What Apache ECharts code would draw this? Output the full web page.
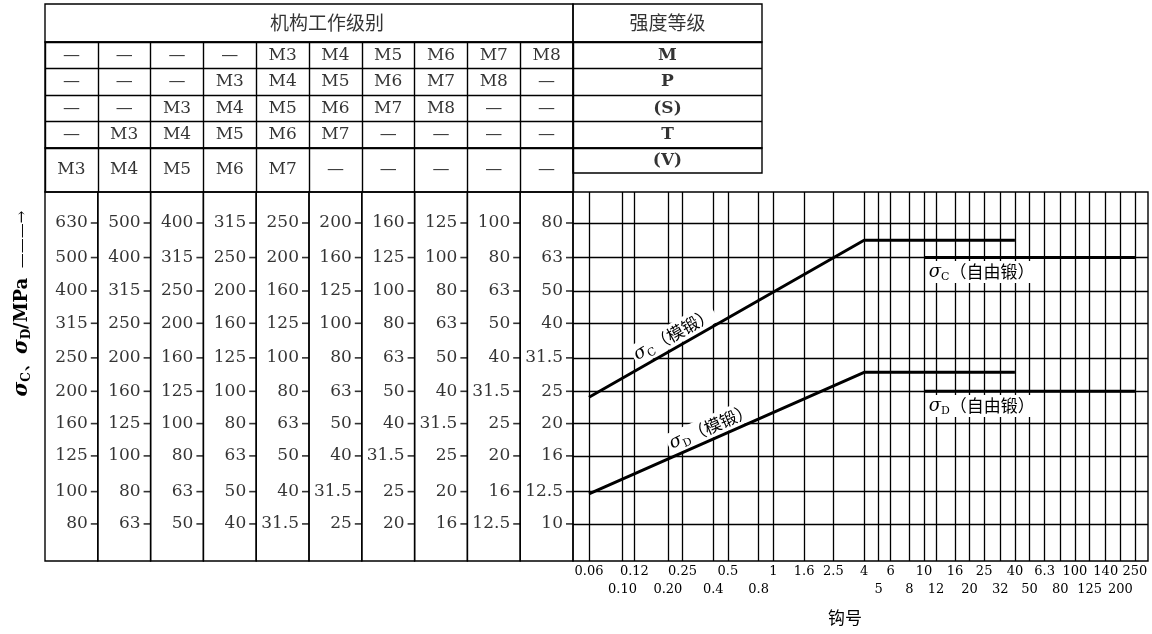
<!DOCTYPE html>
<html><head><meta charset="utf-8">
<script src="https://cdn.jsdelivr.net/npm/echarts@6/dist/echarts.min.js"></script>
<style>html,body{margin:0;padding:0;background:#fff}#c{width:1152px;height:634px}</style>
</head><body><div id="c"></div>
<script>
// ---------- DATA ----------
const headerLevels = '机构工作级别';
const headerStrength = '强度等级';
const levelRow1 = ['—','—','—','—','M3','M4','M5','M6','M7','M8'];
const levelRow2 = ['—','—','—','M3','M4','M5','M6','M7','M8','—'];
const levelRow3 = ['—','—','M3','M4','M5','M6','M7','M8','—','—'];
const levelRow4 = ['—','M3','M4','M5','M6','M7','—','—','—','—'];
const levelRow5 = ['M3','M4','M5','M6','M7','—','—','—','—','—'];
const strengthClasses = ['M','P','(S)','T','(V)'];

// stress scale tick labels per column (MPa); last column is the chart's own scale
const stressCol1  = [630,500,400,315,250,200,160,125,100,80];
const stressCol2  = [500,400,315,250,200,160,125,100,80,63];
const stressCol3  = [400,315,250,200,160,125,100,80,63,50];
const stressCol4  = [315,250,200,160,125,100,80,63,50,40];
const stressCol5  = [250,200,160,125,100,80,63,50,40,31.5];
const stressCol6  = [200,160,125,100,80,63,50,40,31.5,25];
const stressCol7  = [160,125,100,80,63,50,40,31.5,25,20];
const stressCol8  = [125,100,80,63,50,40,31.5,25,20,16];
const stressCol9  = [100,80,63,50,40,31.5,25,20,16,12.5];
const stressCol10 = [80,63,50,40,31.5,25,20,16,12.5,10];
const stressCols = [stressCol1,stressCol2,stressCol3,stressCol4,stressCol5,stressCol6,stressCol7,stressCol8,stressCol9,stressCol10];

const hookNumbers = [0.06,0.10,0.12,0.20,0.25,0.4,0.5,0.8,1,1.6,2.5,4,5,6,8,10,12,16,20,25,32,40,50,63,80,100,125,160,200,250];
const hookLabels  = ['0.06','0.10','0.12','0.20','0.25','0.4','0.5','0.8','1','1.6','2.5','4','5','6','8','10','12','16','20','25','32','40','50','6.3','80','100','125','140','200','250'];
const hookLabelRow = [1,2,1,2,1,2,1,2,1,1,1,1,2,1,2,1,2,1,2,1,2,1,2,1,2,1,2,1,2,1];
const stressGridValues = [10,12.5,16,20,25,31.5,40,50,63,80];

const sigmaC_die  = [[0.06,24],[4,71],[40,71]];
const sigmaC_free = [[10,63],[250,63]];
const sigmaD_die  = [[0.06,12.3],[4,28.5],[40,28.5]];
const sigmaD_free = [[10,25],[250,25]];

// label anchor points (data coords)
const labelC_die  = [0.218,37.1];
const labelC_free = [10.4,57];
const labelD_die  = [0.385,19.6];
const labelD_free = [10.4,22.6];

// ---------- LAYOUT ----------
const SERIF = 'DejaVu Serif', CJK = 'Noto Sans CJK SC';
const L = 45, TBL_R = 573, STR_R = 762, CH_R = 1148;
const COLW = (TBL_R - L) / 10;
const Y_HEAD = 4, Y_ROW1 = 42, Y_ROW5 = 148, Y_STR_END = 173, Y_TOP = 192, Y_BOT = 561;
const X_MIN = 0.047, X_MAX = 305, Y_MIN = 7.74, Y_MAX = 99.1;
const BORDER = 1.4;

const grids = [], xAxes = [], yAxes = [], series = [];
function addGrid(rect, xa, ya, showBorder) {
  const i = grids.length;
  grids.push(Object.assign({show: showBorder !== false, borderColor:'#000', borderWidth:BORDER,
    backgroundColor:'transparent', outerBoundsMode:'none', containLabel:false}, rect));
  xAxes.push(Object.assign({gridIndex:i}, xa));
  yAxes.push(Object.assign({gridIndex:i}, ya));
  return i;
}
function catAxis(n, split, inverse) {
  return {type:'category', data:Array.from({length:n},(_,k)=>String(k)), inverse:!!inverse,
    axisLine:{show:false}, axisTick:{show:false}, axisLabel:{show:false},
    splitLine:{show:!!split, interval:0, lineStyle:{color:'#000', width:BORDER}}};
}
function textScatter(gi, data, font, offset) {
  series.push({type:'scatter', xAxisIndex:gi, yAxisIndex:gi, symbolSize:0, silent:true, clip:false,
    data: data,
    label:{show:true, position:'inside', formatter:p=>p.value[2], color:'#000', offset: offset || [0,0],
      fontFamily: font.family, fontSize: font.size, fontWeight: font.weight || 'normal'}});
}

// header cells
let g = addGrid({left:L, top:Y_HEAD, width:TBL_R-L, height:Y_ROW1-Y_HEAD}, catAxis(1), catAxis(1));
textScatter(g, [[0,0,headerLevels]], {family:CJK, size:19}, [18,0]);
g = addGrid({left:TBL_R, top:Y_HEAD, width:STR_R-TBL_R, height:Y_ROW1-Y_HEAD}, catAxis(1), catAxis(1));
textScatter(g, [[0,0,headerStrength]], {family:CJK, size:19});

// level rows 1-4
g = addGrid({left:L, top:Y_ROW1, width:TBL_R-L, height:Y_ROW5-Y_ROW1}, catAxis(10,true), catAxis(4,true,true));
const rows14 = [levelRow1, levelRow2, levelRow3, levelRow4];
const d14 = [];
rows14.forEach((row, r) => row.forEach((t, c) => d14.push([c, r, t])));
textScatter(g, d14, {family:SERIF, size:17});
// level row 5
g = addGrid({left:L, top:Y_ROW5, width:TBL_R-L, height:Y_TOP-Y_ROW5}, catAxis(10,true), catAxis(1));
textScatter(g, levelRow5.map((t, c) => [c, 0, t]), {family:SERIF, size:17});
// strength rows
g = addGrid({left:TBL_R, top:Y_ROW1, width:STR_R-TBL_R, height:Y_ROW5-Y_ROW1}, catAxis(1), catAxis(4,true,true));
textScatter(g, strengthClasses.slice(0,4).map((t, r) => [0, r, t]), {family:SERIF, size:17, weight:'bold'});
g = addGrid({left:TBL_R, top:Y_ROW5, width:STR_R-TBL_R, height:Y_STR_END-Y_ROW5}, catAxis(1), catAxis(1));
textScatter(g, [[0, 0, strengthClasses[4]]], {family:SERIF, size:17, weight:'bold'});

// stress columns: ticks placed on the chart's stress rows, labelled with each column's values
stressCols.forEach((col, i) => {
  const ya = {type:'log', min:Y_MIN, max:Y_MAX, show: i === 0,
    axisLine:{show:false}, axisTick:{show:false}, axisLabel:{show:false}, splitLine:{show:false}};
  if (i === 0) {
    Object.assign(ya, {
      name:'{s|σ}{sub|C}{n|、}{s|σ}{sub|D}{n|/MPa}{a|  ———→}',
      nameLocation:'middle', nameRotate:90, nameGap:12,
      nameTextStyle:{padding:[0,0,0,146], rich:{
        s:{fontFamily:SERIF, fontStyle:'italic', fontSize:20, fontWeight:'bold', color:'#000', lineHeight:22},
        sub:{fontFamily:SERIF, fontSize:12, fontWeight:'bold', color:'#000', verticalAlign:'bottom', lineHeight:22},
        n:{fontFamily:SERIF, fontSize:18, fontWeight:'bold', color:'#000', lineHeight:22},
        a:{fontFamily:SERIF, fontSize:15, color:'#000', lineHeight:22}}}
    });
  }
  const gi = addGrid({left:L + i*COLW, top:Y_TOP, width:COLW, height:Y_BOT-Y_TOP},
    {type:'value', min:0, max:1, show:false}, ya);
  series.push({type:'scatter', xAxisIndex:gi, yAxisIndex:gi, silent:true, clip:false,
    symbol:'rect', symbolSize:[7,1.6], symbolOffset:[-3.5,0],
    itemStyle:{color:'#000'},
    data: stressCol10.map((pos, k) => [1, pos, col[k]]),
    label:{show:true, position:'left', distance:3, formatter:p=>String(p.value[2]),
      color:'#000', fontFamily:SERIF, fontSize:17}});
});

// main chart
const mg = addGrid({left:TBL_R, top:Y_TOP, width:CH_R-TBL_R, height:Y_BOT-Y_TOP},
  {type:'log', min:X_MIN, max:X_MAX, show:false},
  {type:'log', min:Y_MIN, max:Y_MAX, show:false});

const gridLineData = [];
hookNumbers.forEach((v, k) => gridLineData.push({xAxis:v,
  label:{show:true, position:'start', formatter:hookLabels[k], distance: hookLabelRow[k]===1 ? 4 : 22,
    color:'#000', fontFamily:SERIF, fontSize:13}}));
stressGridValues.forEach(v => gridLineData.push({yAxis:v, label:{show:false}}));
series.push({type:'line', xAxisIndex:mg, yAxisIndex:mg, data:[], silent:true,
  markLine:{silent:true, symbol:['none','none'], animation:false,
    lineStyle:{color:'#000', width:1.3, type:'solid'}, label:{show:false}, emphasis:{disabled:true},
    data:gridLineData}});

const richLbl = {
  s:{fontFamily:SERIF, fontStyle:'italic', fontSize:18, color:'#000', lineHeight:22},
  sub:{fontFamily:SERIF, fontSize:11, color:'#000', verticalAlign:'bottom', lineHeight:22},
  t:{fontFamily:CJK, fontSize:17, color:'#000', lineHeight:22}
};
function lineSeries(data, lblCoord, sub, txt, rot, pos) {
  series.push({type:'line', xAxisIndex:mg, yAxisIndex:mg, data:data, symbol:'none', silent:true, z:5,
    lineStyle:{color:'#000', width:3}, animation:false,
    markPoint:{symbol:'circle', symbolSize:0, silent:true, animation:false,
      data:[{coord:lblCoord, label:{show:true, position: pos || 'inside', distance:0, rotate:rot,
        formatter:'{s|σ}{sub|' + sub + '}{t|' + txt + '}', rich:richLbl,
        backgroundColor:'#fff', padding:[0,2]}}]}});
}
lineSeries(sigmaC_die, labelC_die, 'C', '（模锻）', 29.7);
lineSeries(sigmaC_free, labelC_free, 'C', '（自由锻）', 0, 'right');
lineSeries(sigmaD_die, labelD_die, 'D', '（模锻）', 23.9);
lineSeries(sigmaD_free, labelD_free, 'D', '（自由锻）', 0, 'right');

const chart = echarts.init(document.getElementById('c'), null, {renderer:'canvas'});
chart.setOption({
  animation:false,
  backgroundColor:'#fff',
  textStyle:{fontFamily:SERIF},
  title:{text:'钩号', left:840, top:604, textAlign:'center',
    textStyle:{fontFamily:CJK, fontSize:17, fontWeight:'normal', color:'#000'}},
  grid:grids, xAxis:xAxes, yAxis:yAxes, series:series
});
</script>
</body></html>
